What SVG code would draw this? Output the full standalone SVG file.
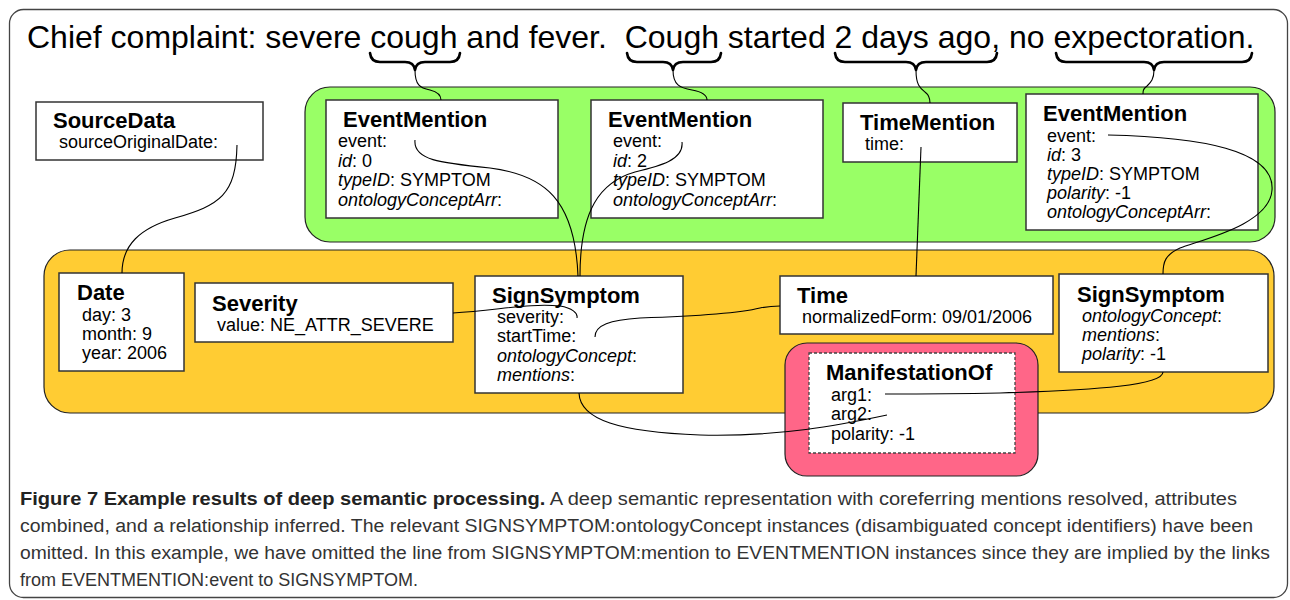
<svg xmlns="http://www.w3.org/2000/svg" width="1290" height="600" viewBox="0 0 1290 600">
<style>
.frame{fill:#fff;stroke:#444;stroke-width:1.3}
.grp{stroke:#222;stroke-width:1.2}
.box{fill:#fff;stroke:#333;stroke-width:1.5}
.dash{fill:#fff;stroke:#444;stroke-width:1.3;stroke-dasharray:3 2}
.t{font-family:"Liberation Sans",Arial,sans-serif;font-weight:bold;font-size:22px;fill:#000}
.b{font-family:"Liberation Sans",Arial,sans-serif;font-size:18px;fill:#000}
.i{font-style:italic}
.sent{font-family:"Liberation Sans",Arial,sans-serif;font-size:32px;fill:#000}
.brace{fill:none;stroke:#000;stroke-width:2.6;stroke-linecap:round;stroke-linejoin:round}
.conn{fill:none;stroke:#000;stroke-width:1.1}
.cap{font-family:"Liberation Sans Narrow","Liberation Sans",Arial,sans-serif;font-size:18px;fill:#333}
.capb{font-weight:bold;fill:#222}
</style>
<rect class="frame" x="9.5" y="9.5" width="1278" height="588" rx="14"/>

<text class="sent" x="27" y="48" xml:space="preserve">Chief complaint: severe cough and fever.  Cough started 2 days ago, no expectoration.</text>

<g id="braces">
<path class="brace" d="M370 53 Q371 62 380 62 L405 62 Q414 62 415 70 Q416 62 425 62 L450 62 Q459 62 460 53"/>
<path class="brace" d="M627 53 Q628 62 637 62 L663 62 Q672 62 673 70 Q674 62 683 62 L711 62 Q720 62 721 53"/>
<path class="brace" d="M835 53 Q836 62 845 62 L906 62 Q915 62 916 70 Q917 62 926 62 L987 62 Q996 62 997 53"/>
<path class="brace" d="M1056 53 Q1057 62 1066 62 L1144 62 Q1153 62 1154 70 Q1155 62 1164 62 L1242 62 Q1251 62 1252 53"/>
</g>

<g id="mention-group">
<rect class="grp" x="305" y="87" width="970" height="155" rx="25" fill="#99FF66"/>
</g>
<g id="entity-group">
<rect class="grp" x="44" y="250" width="1230" height="163" rx="26" fill="#FFCC33"/>
</g>
<g id="relation-group">
<rect class="grp" x="785" y="343" width="253" height="133" rx="22" fill="#FF6688"/>
</g>

<g id="sourcedata">
<rect class="box" x="36" y="102" width="227" height="58"/>
<text class="t" x="53" y="128">SourceData</text>
<text class="b" x="59" y="148">sourceOriginalDate:</text>
</g>

<g id="eventmention1">
<rect class="box" x="326" y="100" width="232" height="118"/>
<text class="t" x="343" y="127">EventMention</text>
<text class="b" x="338" y="147">event:</text>
<text class="b" x="338" y="166.5"><tspan class="i">id</tspan>: 0</text>
<text class="b" x="338" y="186"><tspan class="i">typeID</tspan>: SYMPTOM</text>
<text class="b" x="338" y="205.5"><tspan class="i">ontologyConceptArr</tspan>:</text>
</g>

<g id="eventmention2">
<rect class="box" x="591" y="100" width="232" height="118"/>
<text class="t" x="608" y="127">EventMention</text>
<text class="b" x="613" y="147">event:</text>
<text class="b" x="613" y="166.5"><tspan class="i">id</tspan>: 2</text>
<text class="b" x="613" y="186"><tspan class="i">typeID</tspan>: SYMPTOM</text>
<text class="b" x="613" y="205.5"><tspan class="i">ontologyConceptArr</tspan>:</text>
</g>

<g id="timemention">
<rect class="box" x="843" y="103" width="174" height="59"/>
<text class="t" x="860" y="130">TimeMention</text>
<text class="b" x="865" y="150">time:</text>
</g>

<g id="eventmention3">
<rect class="box" x="1026" y="94" width="232" height="136"/>
<text class="t" x="1043" y="121">EventMention</text>
<text class="b" x="1047" y="142">event:</text>
<text class="b" x="1047" y="161"><tspan class="i">id</tspan>: 3</text>
<text class="b" x="1047" y="180"><tspan class="i">typeID</tspan>: SYMPTOM</text>
<text class="b" x="1047" y="199"><tspan class="i">polarity</tspan>: -1</text>
<text class="b" x="1047" y="218"><tspan class="i">ontologyConceptArr</tspan>:</text>
</g>

<g id="date">
<rect class="box" x="59" y="273" width="125" height="98"/>
<text class="t" x="77" y="300">Date</text>
<text class="b" x="82" y="321">day: 3</text>
<text class="b" x="82" y="340">month: 9</text>
<text class="b" x="82" y="359">year: 2006</text>
</g>

<g id="severity">
<rect class="box" x="195" y="283" width="258" height="59"/>
<text class="t" x="212" y="311">Severity</text>
<text class="b" x="217" y="331">value: NE_ATTR_SEVERE</text>
</g>

<g id="signsymptom1">
<rect class="box" x="475" y="276" width="208" height="117"/>
<text class="t" x="492" y="303">SignSymptom</text>
<text class="b" x="497" y="323">severity:</text>
<text class="b" x="497" y="342">startTime:</text>
<text class="b" x="497" y="361.5"><tspan class="i">ontologyConcept</tspan>:</text>
<text class="b" x="497" y="380.5"><tspan class="i">mentions</tspan>:</text>
</g>

<g id="time">
<rect class="box" x="780" y="276" width="273" height="58"/>
<text class="t" x="797" y="303">Time</text>
<text class="b" x="802" y="323">normalizedForm: 09/01/2006</text>
</g>

<g id="signsymptom2">
<rect class="box" x="1059" y="274" width="209" height="98"/>
<text class="t" x="1077" y="302">SignSymptom</text>
<text class="b" x="1082" y="322"><tspan class="i">ontologyConcept</tspan>:</text>
<text class="b" x="1082" y="341"><tspan class="i">mentions</tspan>:</text>
<text class="b" x="1082" y="360"><tspan class="i">polarity</tspan>: -1</text>
</g>

<g id="manifestationof">
<rect class="dash" x="809" y="353" width="206" height="100"/>
<text class="t" x="826" y="380">ManifestationOf</text>
<text class="b" x="831" y="401">arg1:</text>
<text class="b" x="831" y="420">arg2:</text>
<text class="b" x="831" y="440">polarity: -1</text>
</g>

<g id="connectors">
<path class="conn" d="M415 70 C415 85 420 88 430 90 C438 92 441 95 441 100"/>
<path class="conn" d="M673 70 C673 85 680 88 692 90 C703 92 707 95 707 100"/>
<path class="conn" d="M916 70 C916 85 920 88 925 92 C929 95 930 98 930 103"/>
<path class="conn" d="M1154 70 C1154 80 1150 83 1147 86 C1143 89 1143 91 1143 94"/>
<path class="conn" d="M237 145 C236 195 220 205 175 218 C140 228 122 245 122 273"/>
<path class="conn" d="M415 140 C413 160 440 163 490 168 C545 175 575 200 578 276"/>
<path class="conn" d="M682 142 C684 160 660 166 635 172 C600 182 580 210 580 276"/>
<path class="conn" d="M921 147 C919 200 917 240 916 276"/>
<path class="conn" d="M1108 135 C1200 137 1275 150 1272 190 C1270 225 1200 240 1180 248 C1165 255 1163 262 1163 274"/>
<path class="conn" d="M453 313 C500 310 530 303 560 306 C572 308 578 313 577 318"/>
<path class="conn" d="M595 337 C595 325 610 320 640 318 C700 316 740 313 760 308 C770 306 775 306 780 306"/>
<path class="conn" d="M579 393 C580 420 620 432 700 435 C780 437 840 425 887 415"/>
<path class="conn" d="M1163 372 C1163 385 1100 390 1000 393 C950 394 910 394 885 394"/>
</g>

<g id="caption">
<text class="cap" x="20" y="505" textLength="1217" lengthAdjust="spacingAndGlyphs"><tspan class="capb">Figure 7 Example results of deep semantic processing.</tspan> A deep semantic representation with coreferring mentions resolved, attributes</text>
<text class="cap" x="20" y="532" textLength="1233" lengthAdjust="spacingAndGlyphs">combined, and a relationship inferred. The relevant SIGNSYMPTOM:ontologyConcept instances (disambiguated concept identifiers) have been</text>
<text class="cap" x="20" y="559" textLength="1250" lengthAdjust="spacingAndGlyphs">omitted. In this example, we have omitted the line from SIGNSYMPTOM:mention to EVENTMENTION instances since they are implied by the links</text>
<text class="cap" x="20" y="586" textLength="398" lengthAdjust="spacingAndGlyphs">from EVENTMENTION:event to SIGNSYMPTOM.</text>
</g>
</svg>
